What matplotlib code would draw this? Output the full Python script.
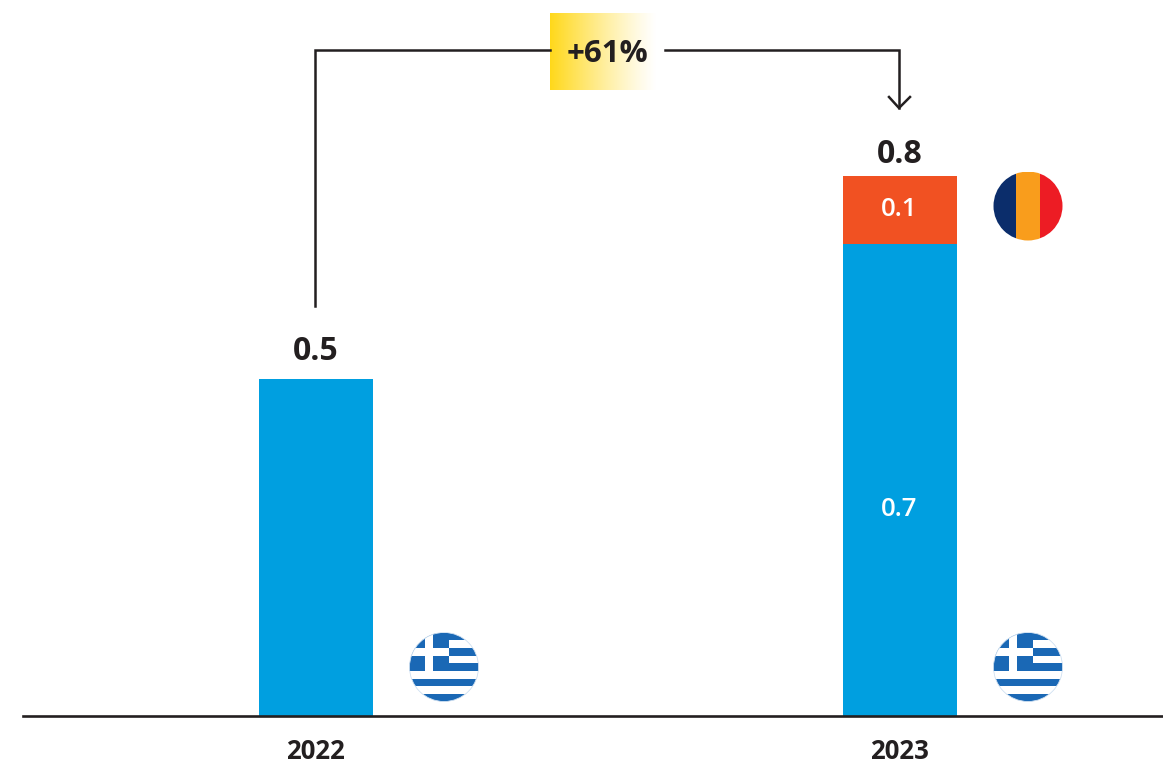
import matplotlib
matplotlib.use("Agg")
import matplotlib.pyplot as plt
from matplotlib.patches import Circle, Rectangle
import numpy as np

years = ["2022", "2023"]
greece = [0.5, 0.7]
romania = [0, 0.1]
totals = ["0.5", "0.8"]
growth = "+61%"

BLUE = "#009FE0"
ORANGE = "#F15122"
DARK = "#231F20"
FLAG_BLUE = "#1A68B5"

plt.rcParams["font.family"] = ["Open Sans", "DejaVu Sans"]

W, H = 1163, 765
fig = plt.figure(figsize=(W / 100, H / 100), dpi=100)

# bars, 675 px per unit, bars 584 px apart
ax = fig.add_axes([23 / W, (H - 716) / H, (W - 23) / W, 716 / H])
x = np.arange(len(years))
ax.bar(x, greece, width=114 / 584, color=BLUE)
ax.bar(x, romania, width=114 / 584, bottom=greece, color=ORANGE)
ax.set_xlim(-292.5 / 584, 847.5 / 584)
ax.set_ylim(0, 716 / 675)
for s in ["top", "left", "right"]:
    ax.spines[s].set_visible(False)
ax.spines["bottom"].set_linewidth(1.9)
ax.spines["bottom"].set_color(DARK)
ax.set_yticks([])
ax.set_xticks(x)
ax.set_xticklabels(years, fontsize=18.5, fontweight="bold", color=DARK)
ax.tick_params(axis="x", length=0, pad=16)
ax.patch.set_alpha(0)

offsets = [10, 5]
for i in range(len(years)):
    top = greece[i] + romania[i]
    ax.annotate(totals[i], (i, top), xytext=(0, offsets[i]), textcoords="offset pixels",
                ha="center", va="bottom", fontsize=23, fontweight="bold", color=DARK)
ax.text(1, 0.306, str(greece[1]), ha="center", va="center",
        fontsize=18.5, fontweight="semibold", color="white")
ax.text(1, greece[1] + romania[1] / 2, str(romania[1]), ha="center", va="center",
        fontsize=18.5, fontweight="semibold", color="white")

# overlay in pixel coords for the bracket and flags
ov = fig.add_axes([0, 0, 1, 1])
ov.set_xlim(0, W)
ov.set_ylim(H, 0)
ov.axis("off")

ov.plot([315, 315, 550], [306, 50, 50], color=DARK, lw=1.8, solid_joinstyle="miter")
ov.plot([665, 899, 899], [50, 50, 108], color=DARK, lw=1.8, solid_joinstyle="miter")
ov.plot([889, 899, 910], [97, 108, 97], color=DARK, lw=1.8)

grad = np.ones((1, 256, 4))
grad[..., 0] = 1.0
grad[..., 1] = 0.85
grad[..., 2] = 0.1
grad[..., 3] = np.linspace(1, 0, 256) ** 1.2
ov.imshow(grad, extent=[550, 657, 90, 13], aspect="auto", interpolation="bilinear")
ov.text(607, 54, growth, ha="center", va="center", fontsize=22.5, fontweight="bold", color=DARK)


def greek_flag(cx, cy, r=34.5):
    clip = Circle((cx, cy), r, transform=ov.transData)
    parts = []
    top = cy - r
    step = 2 * r / 9
    parts.append(Rectangle((cx - r - 2, top), 2 * r + 4, 2 * r, color="white", lw=0))
    for k in range(0, 9, 2):
        parts.append(Rectangle((cx - r - 2, top + k * step), 2 * r + 4, step, color=FLAG_BLUE, lw=0))
    # canton and cross
    parts.append(Rectangle((cx - r - 2, top), 41, 5 * step, color=FLAG_BLUE, lw=0))
    parts.append(Rectangle((cx - r - 2, top + 2 * step), 41, step, color="white", lw=0))
    parts.append(Rectangle((cx - r + 15, top), 8, 5 * step, color="white", lw=0))
    for p in parts:
        ov.add_patch(p)
        p.set_clip_path(clip)
    ov.add_patch(Circle((cx, cy), r, fill=False, ec="#CFE0F1", lw=0.6))


def romanian_flag(cx, cy, r=34.5):
    clip = Circle((cx, cy), r, transform=ov.transData)
    left = cx - r
    for x0, w, c in [(-2, 24, "#0B2D6B"), (22, 24, "#F99D1C"), (46, 25, "#ED1C24")]:
        p = Rectangle((left + x0, cy - r), w, 2 * r, color=c, lw=0)
        ov.add_patch(p)
        p.set_clip_path(clip)


greek_flag(444, 667)
greek_flag(1028, 667)
romanian_flag(1028, 206)

ov.set_xlim(0, W)
ov.set_ylim(H, 0)

fig.savefig("out.png", dpi=100)
